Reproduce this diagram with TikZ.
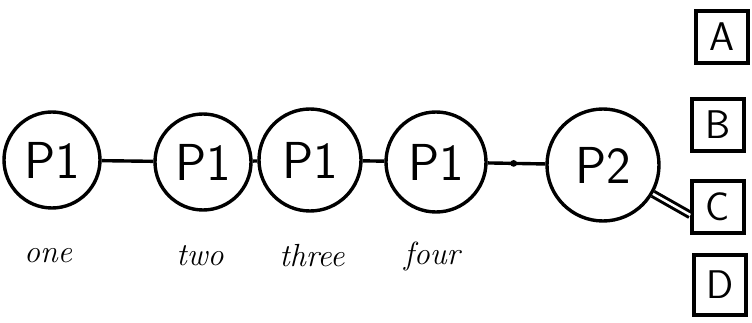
\documentclass[tikz,border=0pt]{standalone}
\usepackage{amsmath}
\usepackage{tikz}

\begin{document}
\begin{tikzpicture}[x=1pt,y=-1pt,line width=3.4pt,
		pnode/.style={draw,circle,inner sep=0pt,minimum size=96pt,font=\fontsize{52}{52}\selectfont\sffamily},
		letterbox/.style={draw,rectangle,inner sep=0pt,minimum width=52pt,minimum height=52pt,font=\fontsize{40}{40}\selectfont\sffamily},
		wordlabel/.style={font=\fontsize{32}{32}\selectfont\itshape}]
			\useasboundingbox (0,0) rectangle (752,323);
			% chain of P1 nodes
			\node[pnode] (one) at (52,160) {P1};
			\node[pnode] (two) at (203,162) {P1};
			\node[pnode,minimum size=102pt] (three) at (310,160) {P1};
			\node[pnode,minimum size=100pt] (four) at (436,162) {P1};
			\node[pnode,minimum size=112pt] (ptwo) at (603,165) {P2};
			% boxes on the right
			\node[letterbox] (A) at (722,37) {A};
			\node[letterbox] (B) at (718,125) {B};
			\node[letterbox] (C) at (718,207) {C};
			\node[letterbox,minimum height=60pt] (D) at (720,285) {D};
			% words under the nodes
			\node[wordlabel] (lone) at (48,256) {one};
			\node[wordlabel] (ltwo) at (200,256) {two};
			\node[wordlabel] (lthree) at (312,256) {three};
			\node[wordlabel] (lfour) at (432,256) {four};
			% links
			\draw (one) -- (two);
			\draw (two) -- (three);
			\draw (three) -- (four);
			\draw (four) -- (ptwo) node[pos=0.45,circle,fill,inner sep=2.4pt] (dot) {};
			\draw[double,double distance=2.5pt,line width=3pt] (ptwo.-30) -- ([yshift=-8pt]C.west);
		\end{tikzpicture}
\end{document}
